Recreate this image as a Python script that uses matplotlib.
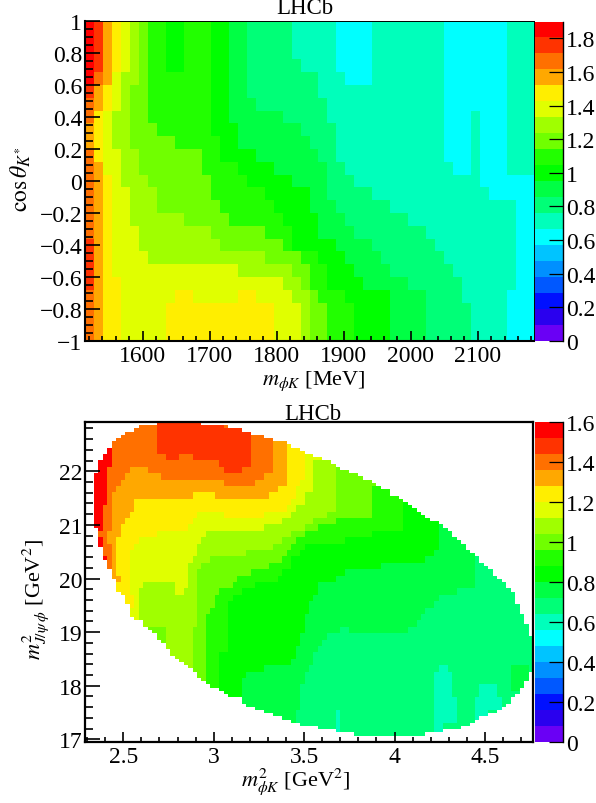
import numpy as np
import matplotlib
matplotlib.use("Agg")
import matplotlib.pyplot as plt
from matplotlib.colors import ListedColormap, BoundaryNorm

plt.rcParams["font.family"] = ["Liberation Serif", "DejaVu Serif"]
plt.rcParams["mathtext.fontset"] = "stix"

W, H = 596, 804

# palette bands, bottom to top of the colour scale
BAND_KEYS = "0123456789ABCDEFGHIJ"
BAND_COLORS = ["#6a00f5", "#2a00ee", "#0010ff", "#0058ff", "#0090ff", "#00c4ff", "#00ffff",
               "#00ffbb", "#00ff77", "#00ff44", "#00ff00", "#22ff00", "#70ff00", "#a0ff00",
               "#e0ff00", "#ffee00", "#ffa800", "#ff7000", "#ff3300", "#ff0000"]

# run length rows, top to bottom: band key + end bin (exclusive)
top_rows = [
    "J1 I2 G3 F4 E5 D6 C7 B9 A11 B14 A16 918 823 728 632 740 647 750",
    "J1 I2 G3 F4 E5 D6 C7 B9 A11 B14 A16 918 823 728 632 740 647 750",
    "J1 I2 G3 F4 E5 D6 C7 B9 A11 B14 A16 918 823 728 632 740 647 750",
    "J1 I2 G3 F4 E5 D6 C7 B9 A11 B14 A16 918 824 728 632 740 647 750",
    "J1 H2 G3 E4 D6 C7 B14 A16 918 826 729 632 740 647 750",
    "I1 G2 F3 E4 D5 C7 B14 A16 918 826 740 647 750",
    "H1 G2 F3 E4 D5 C7 B14 A16 919 827 740 647 750",
    "H1 F2 E3 D5 C7 B14 A16 922 827 740 643 744 647 750",
    "G1 F2 E3 D5 C8 B14 A17 924 828 740 643 744 647 750",
    "G1 F2 E3 D5 C10 B15 A17 925 828 740 643 744 647 750",
    "H1 F2 E4 D6 C13 B15 A19 926 828 740 643 744 647 750",
    "H1 G2 E4 D6 C13 B17 A21 927 829 741 643 744 647 750",
    "H1 G2 F3 E4 D7 C14 B18 A23 927 830 744 650",
    "H1 G2 F3 E5 D8 C14 B20 A25 927 832 745 650",
    "H1 G2 F3 E5 D8 C15 B21 A25 928 834 748 650",
    "H1 G2 F3 E5 D11 C16 B22 A26 929 836 748 650",
    "H1 G2 F3 E6 D14 C20 B23 A26 930 838 748 650",
    "I1 G2 F3 E6 D15 C22 B23 A28 932 839 748 650",
    "I1 G2 F3 E7 D20 C24 B26 A29 933 840 748 650",
    "I1 G2 F3 E17 D23 C25 B27 A30 934 841 748 650",
    "I1 G2 F4 E22 D24 C25 B27 A31 936 842 748 650",
    "H1 G2 F4 E10 F12 E17 F19 E23 D25 C26 B29 A34 938 842 747 650",
    "H1 G2 F4 E9 F21 E24 D25 C27 B30 A34 938 843 747 650",
    "H1 G2 F4 E9 F21 E24 D25 C27 B30 A34 938 843 747 650",
    "H1 G2 F4 E9 F21 E24 D25 C27 B30 A34 938 843 747 650",
]

bottom_rows = [
    "H16 I31 H100",
    "H16 I37 H100",
    "H16 I37 H43 G100",
    "H16 I37 H42 G45 F100",
    "J6 H16 I37 H42 G45 F100",
    "J6 H18 I21 H24 I37 H42 G45 F49 E100",
    "J6 H30 I37 H42 G45 F49 E51 D100",
    "J5 H10 G14 H31 I35 H42 G45 F49 E51 D56 C100",
    "J5 H9 G17 H40 G45 F49 E51 D56 C100",
    "J5 H8 G31 H38 G45 F48 E51 D56 C100",
    "J5 H7 G43 F47 E51 D56 C64 B100",
    "J5 H6 G24 F29 G41 F47 E49 D56 C64 B100",
    "J5 H6 G11 F46 E49 D56 C64 B71 A100",
    "J4 H6 G11 F45 E47 D56 C64 B71 A100",
    "J4 H6 G10 F25 E31 F40 E46 D54 C64 B71 A100",
    "J4 H6 G9 F24 E44 D51 C56 B71 A100",
    "J4 H6 G8 F23 E40 D49 C52 B71 A79 9100",
    "H5 G8 F16 E27 D46 C49 B64 A79 9100",
    "J4 H5 G7 F12 E26 D44 C47 B58 A79 9100",
    "J4 H6 G7 F11 E25 D42 C46 B49 A79 9100",
    "H6 G7 F10 E25 D36 C45 B48 A78 9100",
    "J5 H6 G7 F10 E24 D28 C44 B46 A76 987 8100",
    "H6 G7 F10 E23 D26 C41 B46 A66 987 8100",
    "G7 F10 E23 D25 C37 B44 A58 987 8100",
    "G8 F10 E23 D25 C34 B43 A56 987 8100",
    "F10 E13 D20 E23 D25 C33 B38 A52 987 8100",
    "F10 E12 D20 E22 D25 C30 B35 A52 983 8100",
    "F11 E12 D25 C29 B33 A51 979 8100",
    "F11 E12 D25 C29 B32 A50 978 8100",
    "E12 D25 C28 B32 A50 976 8100",
    "E12 D25 C27 B32 A49 975 8100",
    "D25 C27 B32 A49 974 8100",
    "C18 D24 C27 B32 A49 957 859 972 8100",
    "C18 D24 C27 B32 A48 954 8100",
    "C18 D24 C27 B32 A48 953 8100",
    "D24 C27 B32 A47 952 8100",
    "D24 C27 B30 A47 951 8100",
    "D24 C27 B30 A46 951 8100",
    "D24 C27 B30 A40 950 879 781 895 999 8100",
    "C27 B30 A36 949 878 782 895 999 8100",
    "C27 B30 A35 949 878 782 895 999 8100",
    "B30 A35 948 878 782 888 792 895 998 8100",
    "A35 948 878 782 888 792 8100",
    "A35 948 878 783 887 793 8100",
    "948 878 783 887 793 8100",
    "947 856 757 878 783 887 790 8100",
    "947 856 757 878 783 887 790 8100",
    "856 757 878 780 8100",
    "856 757 878 780 8100",
    "8100",
]

# phase space edge of the lower plot, first and last filled bin of each fine row
bottom_left = [16, 12, 11, 9, 8, 7, 6, 6, 5, 5, 4, 4, 3, 3, 3, 3, 2, 2, 2, 2,
               2, 2, 2, 2, 2, 2, 2, 2, 2, 2, 2, 2, 2, 3, 3, 3, 3, 3, 3, 4,
               4, 4, 4, 5, 5, 5, 6, 6, 6, 7, 7, 7, 7, 8, 9, 9, 9, 10, 10, 10,
               10, 11, 13, 13, 14, 15, 16, 16, 17, 18, 18, 19, 19, 20, 21, 22, 23, 24, 25, 25,
               26, 27, 28, 30, 31, 32, 35, 35, 36, 38, 40, 42, 44, 46, 48, 52, 56, 60]
bottom_right = [26, 32, 35, 37, 40, 42, 45, 46, 48, 49, 51, 53, 55, 56, 57, 59, 61, 62, 64, 65,
                66, 68, 68, 70, 71, 72, 73, 74, 75, 76, 77, 79, 80, 81, 82, 82, 83, 84, 85, 85,
                86, 87, 88, 88, 89, 90, 91, 91, 92, 93, 94, 94, 95, 96, 96, 96, 96, 97, 97, 97,
                98, 98, 98, 99, 99, 99, 99, 100, 100, 100, 100, 100, 100, 100, 100, 100, 100, 100, 99, 99,
                99, 98, 98, 97, 97, 96, 95, 95, 94, 93, 92, 90, 88, 87, 86, 84, 80, 76]

top_xrange = [1513.9, 2184.0]
top_yrange = [-1.0, 1.0]
top_zmax = 1.9
top_xticks = [1600, 1700, 1800, 1900, 2000, 2100]
top_yticks = [-1, -0.8, -0.6, -0.4, -0.2, 0, 0.2, 0.4, 0.6, 0.8, 1]
top_cticks = [0, 0.2, 0.4, 0.6, 0.8, 1, 1.2, 1.4, 1.6, 1.8]

bottom_xrange = [2.288, 4.766]
bottom_yrange = [16.95, 22.92]
bottom_zmax = 1.6
bottom_xticks = [2.5, 3, 3.5, 4, 4.5]
bottom_yticks = [17, 18, 19, 20, 21, 22]
bottom_cticks = [0, 0.2, 0.4, 0.6, 0.8, 1, 1.2, 1.4, 1.6]


def expand(rows, ncols, zmax):
    grid = np.zeros((len(rows), ncols))
    step = zmax / len(BAND_KEYS)
    for i, row in enumerate(rows):
        start = 0
        for run in row.split():
            end = int(run[1:])
            grid[i, start:end] = (BAND_KEYS.index(run[0]) + 0.5) * step
            start = end
    return grid


def make_axes(left, top, right, bottom):
    return fig.add_axes([left / W, 1 - bottom / H, (right - left) / W, (bottom - top) / H])


def fmt(v):
    return f"{v:g}".replace("-", "\u2212")


def style_axes(ax, xticks, yticks, xminor, yminor):
    ax.set_xticks(xticks, [fmt(v) for v in xticks])
    ax.set_yticks(yticks, [fmt(v) for v in yticks])
    ax.set_xticks(xminor, minor=True)
    ax.set_yticks(yminor, minor=True)
    ax.tick_params(axis="y", which="major", direction="in", length=11, width=1.2, labelsize=17, pad=2)
    ax.tick_params(axis="y", which="minor", direction="in", length=5.5, width=1.2)
    ax.tick_params(axis="x", which="major", direction="in", length=7, width=1.2, labelsize=17, pad=3)
    ax.tick_params(axis="x", which="minor", direction="in", length=3.5, width=1.2)


def draw_colorbar(mesh, cax, ticks):
    cb = fig.colorbar(mesh, cax=cax, spacing="proportional", drawedges=False)
    cb.set_ticks(ticks, labels=[fmt(v) for v in ticks])
    cb.minorticks_off()
    cax.tick_params(axis="y", which="major", direction="in", length=10, width=0.9,
                    labelsize=17, pad=2, right=True)
    cb.outline.set_visible(False)
    cax.spines["right"].set_visible(True)
    cax.spines["right"].set_linewidth(1.0)


fig = plt.figure(figsize=(W / 100, H / 100), dpi=100)
fig.patch.set_facecolor("white")
cmap = ListedColormap(BAND_COLORS)

# upper plot
ax1 = make_axes(85, 22, 534, 342)
z1 = expand(top_rows, 50, top_zmax)[::-1]
x1 = np.linspace(top_xrange[0], top_xrange[1], 51)
y1 = np.linspace(top_yrange[0], top_yrange[1], len(top_rows) + 1)
norm1 = BoundaryNorm(np.linspace(0, top_zmax, 21), 20)
m1 = ax1.pcolormesh(x1, y1, z1, cmap=cmap, norm=norm1, linewidth=0, rasterized=True)
style_axes(ax1, top_xticks, top_yticks,
           np.arange(1520, 2181, 20), np.arange(-1, 1.001, 0.05))
for side in ["left", "bottom"]:
    ax1.spines[side].set_linewidth(1.5)
for side in ["top", "right"]:
    ax1.spines[side].set_linewidth(0.7)

cax1 = make_axes(535, 22.5, 563, 342)
draw_colorbar(m1, cax1, top_cticks)

fig.text(305 / W, 1 - 9 / H, "LHCb", fontsize=16.5, ha="center", va="center")
fig.text(314 / W, 1 - 381 / H, r"$m_{\phi K}$ [MeV]", fontsize=16, ha="center", va="center")
fig.text(21 / W, 1 - 179 / H, r"$\cos\theta_{K^{*}}$", fontsize=17, rotation=90, ha="center", va="center")

# lower plot, bins outside the phase space edge are left empty
ax2 = make_axes(85, 423, 533, 743)
z2 = np.repeat(expand(bottom_rows, 100, bottom_zmax), 2, axis=0)
for k in range(z2.shape[0]):
    if k < len(bottom_left):
        z2[k, :bottom_left[k]] = np.nan
        z2[k, bottom_right[k]:] = np.nan
    else:
        z2[k, :] = np.nan
z2 = np.ma.masked_invalid(z2[::-1])
x2 = np.linspace(bottom_xrange[0], bottom_xrange[1], 101)
y2 = np.linspace(bottom_yrange[0], bottom_yrange[1], 101)
norm2 = BoundaryNorm(np.linspace(0, bottom_zmax, 21), 20)
m2 = ax2.pcolormesh(x2, y2, z2, cmap=cmap, norm=norm2, linewidth=0, rasterized=True)
style_axes(ax2, bottom_xticks, bottom_yticks,
           np.arange(2.3, 4.76, 0.1), np.arange(17, 22.9, 0.2))
for side in ax2.spines:
    ax2.spines[side].set_linewidth(1.6)

cax2 = make_axes(535, 423, 563, 743)
draw_colorbar(m2, cax2, bottom_cticks)

fig.text(313 / W, 1 - 414 / H, "LHCb", fontsize=16.5, ha="center", va="center")
fig.text(296 / W, 1 - 782 / H, r"$m^{2}_{\phi K}$ [GeV$^{2}$]", fontsize=16, ha="center", va="center")
fig.text(36 / W, 1 - 600 / H, r"$m^{2}_{J/\psi\,\phi}$ [GeV$^{2}$]", fontsize=16, rotation=90, ha="center", va="center")

fig.savefig("out.png", dpi=100)
plt.close(fig)
